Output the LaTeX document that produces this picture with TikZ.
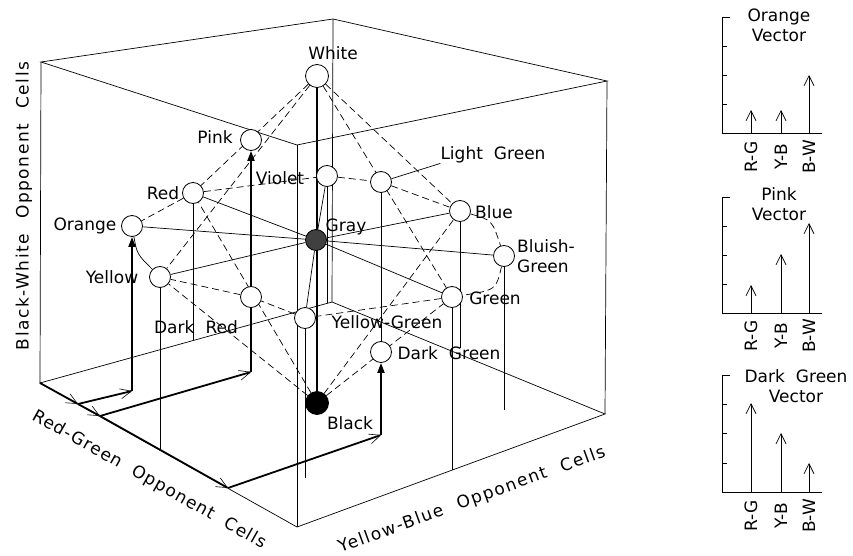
\documentclass[tikz,border=0pt]{standalone}
\usepackage{fontspec}
\setmainfont{DejaVu Sans}
\usetikzlibrary{arrows.meta,backgrounds}
\newcommand\mylblfont{\fontsize{17}{20}\selectfont\spaceskip=0.65em plus 0.1em\relax}
\newcommand\myaxisfont{\fontsize{17}{20}\selectfont\addfontfeatures{LetterSpace=9}\spaceskip=0.9em plus 0.1em\relax}
\newcommand\myaxisfontb{\fontsize{17}{20}\selectfont\addfontfeatures{LetterSpace=7}\spaceskip=0.8em plus 0.1em\relax}
\begin{document}
\begin{tikzpicture}[x=1pt,y=-1pt,
  cnode/.style={circle,draw,fill=white,minimum size=21pt,inner sep=0pt,line width=0.8pt},
  bnode/.style={cnode,minimum size=23pt},
  lbl/.style={font=\mylblfont,inner sep=0pt},
  axlbl/.style={font=\myaxisfont,inner sep=0pt},
  axlblb/.style={font=\myaxisfontb,inner sep=0pt},
  edge/.style={line width=0.7pt},
  dsh/.style={line width=0.7pt,dash pattern=on 7pt off 4pt},
  axisline/.style={line width=2.6pt},
  vec/.style={line width=1.8pt},
  barb/.style={-{Straight Barb[length=11pt,width=10pt,line width=0.6pt]}},
  tri/.style={-{Triangle[length=10pt,width=7pt]}},
  cbarb/.style={-{Straight Barb[length=10pt,width=10pt,line width=0.7pt]}}
]
\useasboundingbox (0,0) rectangle (853,556);
% cube corners
\coordinate (tl) at (41,62);
\coordinate (tb) at (333,19);
\coordinate (tr) at (607,81);
\coordinate (tf) at (297,145);
\coordinate (bl) at (40,383);
\coordinate (bb) at (332,302);
\coordinate (br) at (605,414);
\coordinate (bf) at (297,527);
% vector corners
\coordinate (rg1) at (78,404);
\coordinate (rg2) at (100,416);
\coordinate (rg3) at (228,488);
\coordinate (yb1) at (132,391);
\coordinate (yb2) at (251,372);
\coordinate (yb3) at (381,435);
% drop ends
\coordinate (dy) at (160,451);
\coordinate (dr) at (193,340);
\coordinate (dv) at (327,303);
\coordinate (dyg) at (305,478);
\coordinate (dg) at (452,470);
\coordinate (db) at (460,348);
\coordinate (dbg) at (504,410);

% colour nodes
\node[bnode] (white) at (317,76) {};
\node[cnode] (pink) at (251,140) {};
\node[cnode] (red) at (193,193) {};
\node[cnode] (orange) at (132,226) {};
\node[cnode] (yellow) at (160,277) {};
\node[cnode] (dred) at (251,297) {};
\node[cnode] (violet) at (327,176) {};
\node[cnode] (lgreen) at (381,182) {};
\node[cnode] (blue) at (460,211) {};
\node[cnode] (bgreen) at (504,256) {};
\node[cnode] (green) at (452,297) {};
\node[cnode] (ygreen) at (305,318) {};
\node[cnode] (dgreen) at (381,352) {};
\node[cnode,fill=black!75] (gray) at (316,240) {};
\node[bnode,fill=black] (black) at (317,403) {};

% labels
\node[lbl] (lwhite) at (333,53) {White};
\node[lbl] (lpink) at (215,137) {Pink};
\node[lbl] (lred) at (163,193) {Red};
\node[lbl] (lviolet) at (280,178) {Violet};
\node[lbl] (llgreen) at (493,155) {Light Green};
\node[lbl] (lorange) at (85,226) {Orange};
\node[lbl] (lgray) at (346,227) {Gray};
\node[lbl] (lblue) at (494,212) {Blue};
\node[lbl,anchor=west,align=left] (lbgreen) at (517,256) {Bluish-\\Green};
\node[lbl] (lyellow) at (112,277) {Yellow};
\node[lbl] (lgreen2) at (495,298) {Green};
\node[lbl] (ldred) at (196,327) {Dark Red};
\node[lbl] (lygreen) at (387,322) {Yellow-Green};
\node[lbl] (ldgreen) at (449,353) {Dark Green};
\node[lbl] (lblack) at (350,423) {Black};

% axis titles
\node[axlbl,rotate=90] (axbw) at (24,206) {Black-White Opponent Cells};
\node[axlblb,rotate=-29.3] (axrg) at (149,480) {Red-Green Opponent Cells};
\node[axlbl,rotate=20] (axyb) at (472,500) {Yellow-Blue Opponent Cells};

\begin{scope}[on background layer]
  % cube
  \draw[edge] (tl) -- (tb) -- (tr) -- (tf) -- cycle;
  \draw[edge] (bl) -- (bb) -- (br) -- (bf) -- cycle;
  \draw[edge] (tl) -- (bl);
  \draw[edge] (tb) -- (bb);
  \draw[edge] (tr) -- (br);
  \draw[edge] (tf) -- (bf);
  % drop lines
  \draw[edge] (yellow) -- (dy);
  \draw[edge] (red) -- (dr);
  \draw[edge] (violet) -- (dv);
  \draw[edge] (ygreen) -- (dyg);
  \draw[edge] (green) -- (dg);
  \draw[edge] (blue) -- (db);
  \draw[edge] (bgreen) -- (dbg);
  \draw[edge] (lgreen) -- (dgreen);
  % white-black axis
  \draw[axisline] (white) -- (black);
  % spokes from gray
  \foreach \n in {red,orange,yellow,blue,bgreen,green,violet,ygreen}
    \draw[edge] (gray) -- (\n);
  % cone lines
  \foreach \n in {red,yellow,green,blue} {
    \draw[dsh] (white) -- (\n);
    \draw[dsh] (black) -- (\n);
  }
  % hue ring
  \draw[dsh] (red) -- (orange);
  \draw[dsh] (red) -- (violet);
  \draw[dsh] (violet) -- (lgreen);
  \draw[dsh] (lgreen) -- (blue);
  \draw[dsh] (blue) .. controls (492,220) .. (bgreen);
  \draw[dsh] (bgreen) .. controls (496,290) .. (green);
  \draw[dsh] (green) -- (ygreen);
  \draw[dsh] (ygreen) -- (dred);
  \draw[dsh] (dred) -- (yellow);
  \draw[edge] (orange) .. controls (137,254) .. (yellow);
  % leader
  \draw[edge] (lgreen) -- (llgreen.south west);
  % vectors
  \draw[vec,barb] (bl) -- (rg1);
  \draw[vec,barb] (rg1) -- (rg2);
  \draw[vec,barb] (rg2) -- (rg3);
  \draw[vec,barb] (rg1) -- (yb1);
  \draw[vec,tri] (yb1) -- (orange);
  \draw[vec,barb] (rg2) -- (yb2);
  \draw[vec,tri] (yb2) -- (pink);
  \draw[vec,barb] (rg3) -- (yb3);
  \draw[vec,tri] (yb3) -- (dgreen);
\end{scope}

% ---- right charts ----
% chart 1: Orange
\draw[edge] (730,17) -- (722,17) -- (722,133) -- (822,133);
\foreach \t in {46,75,104} \draw[edge] (722,\t) -- (727,\t);
\draw[edge,cbarb] (751,133) -- (751,110);
\draw[edge,cbarb] (781,133) -- (781,110);
\draw[edge,cbarb] (809,133) -- (809,75);
\node[lbl,align=center] (t1) at (779,25) {Orange\\Vector};
\node[lbl,rotate=90] (a1) at (751,157) {R-G};
\node[lbl,rotate=90] (b1) at (781,157) {Y-B};
\node[lbl,rotate=90] (c1) at (809,157) {B-W};
% chart 2: Pink
\draw[edge] (730,197) -- (722,197) -- (722,313) -- (822,313);
\foreach \t in {226,255,284} \draw[edge] (722,\t) -- (727,\t);
\draw[edge,cbarb] (751,313) -- (751,285);
\draw[edge,cbarb] (781,313) -- (781,254);
\draw[edge,cbarb] (809,313) -- (809,223);
\node[lbl,align=center] (t2) at (779,204) {Pink\\Vector};
\node[lbl,rotate=90] (a2) at (751,336) {R-G};
\node[lbl,rotate=90] (b2) at (781,336) {Y-B};
\node[lbl,rotate=90] (c2) at (809,336) {B-W};
% chart 3: Dark Green
\draw[edge] (730,375) -- (722,375) -- (722,492) -- (822,492);
\foreach \t in {404,433,463} \draw[edge] (722,\t) -- (727,\t);
\draw[edge,cbarb] (751,492) -- (751,403);
\draw[edge,cbarb] (781,492) -- (781,433);
\draw[edge,cbarb] (809,492) -- (809,463);
\node[lbl,align=center] (t3) at (796,386) {Dark Green\\Vector};
\node[lbl,rotate=90] (a3) at (751,516) {R-G};
\node[lbl,rotate=90] (b3) at (781,516) {Y-B};
\node[lbl,rotate=90] (c3) at (809,516) {B-W};
\end{tikzpicture}
\end{document}
